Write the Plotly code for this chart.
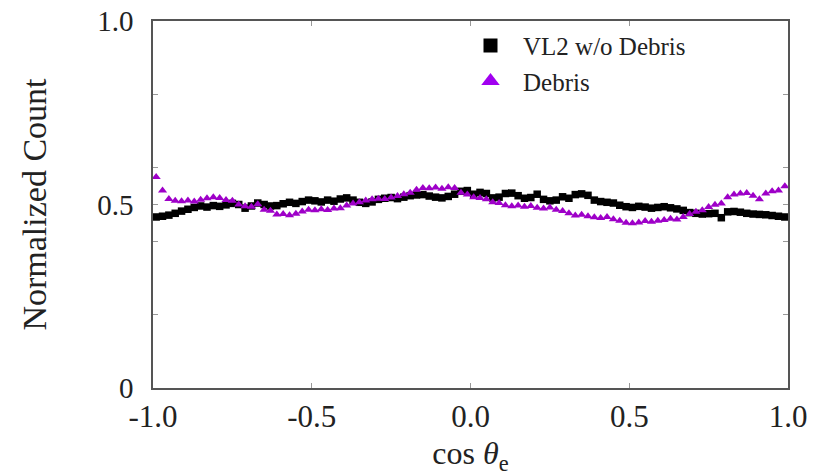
import numpy as np
import plotly.graph_objects as go

# Bin centres of cos(theta_e), 100 bins over [-1, 1]
cos_theta = np.round(np.arange(-0.99, 1.0, 0.02), 2)

# Normalized counts, VL2 without debris
vl2_no_debris = [
    0.466, 0.468, 0.471, 0.476, 0.482, 0.487, 0.492, 0.496, 0.493, 0.497,
    0.495, 0.499, 0.503, 0.500, 0.490, 0.496, 0.504, 0.500, 0.496, 0.497,
    0.502, 0.506, 0.503, 0.508, 0.512, 0.510, 0.507, 0.512, 0.509, 0.515,
    0.518, 0.512, 0.506, 0.503, 0.507, 0.514, 0.517, 0.519, 0.516, 0.520,
    0.524, 0.526, 0.527, 0.523, 0.520, 0.518, 0.522, 0.528, 0.536, 0.538,
    0.528, 0.533, 0.530, 0.518, 0.520, 0.530, 0.531, 0.524, 0.517, 0.519,
    0.528, 0.514, 0.510, 0.512, 0.521, 0.517, 0.527, 0.529, 0.525, 0.512,
    0.508, 0.506, 0.504, 0.498, 0.494, 0.492, 0.495, 0.493, 0.490, 0.492,
    0.494, 0.491, 0.488, 0.484, 0.478, 0.476, 0.474, 0.475, 0.476, 0.464,
    0.480, 0.481, 0.479, 0.476, 0.474, 0.473, 0.472, 0.470, 0.468, 0.466,
]

# Normalized counts, debris
debris = [
    0.575, 0.538, 0.515, 0.510, 0.509, 0.511, 0.508, 0.513, 0.517, 0.520,
    0.518, 0.512, 0.510, 0.500, 0.495, 0.494, 0.501, 0.486, 0.483, 0.473,
    0.474, 0.471, 0.475, 0.481, 0.486, 0.484, 0.487, 0.485, 0.489, 0.490,
    0.497, 0.503, 0.506, 0.511, 0.514, 0.516, 0.515, 0.519, 0.523, 0.528,
    0.532, 0.540, 0.545, 0.544, 0.546, 0.543, 0.547, 0.545, 0.532, 0.527,
    0.520, 0.518, 0.514, 0.506, 0.504, 0.498, 0.495, 0.497, 0.494, 0.496,
    0.491, 0.489, 0.492, 0.486, 0.482, 0.476, 0.470, 0.472, 0.468, 0.465,
    0.463, 0.466, 0.460, 0.456, 0.450, 0.449, 0.451, 0.455, 0.453, 0.456,
    0.458, 0.461, 0.459, 0.466, 0.474, 0.480, 0.484, 0.493, 0.499, 0.503,
    0.520, 0.527, 0.530, 0.531, 0.524, 0.514, 0.530, 0.536, 0.538, 0.550,
]

x_tick_vals = [-1.0, -0.5, 0.0, 0.5, 1.0]
x_tick_text = ["-1.0", "-0.5", "0.0", "0.5", "1.0"]
y_tick_vals = [0, 0.5, 1.0]
y_tick_text = ["0", "0.5", "1.0"]

BLACK = "#000000"
PURPLE = "#9e00c8"
FONT = "Liberation Serif"
TEXT = "#222222"

fig = go.Figure()

fig.add_trace(go.Scatter(
    x=cos_theta, y=vl2_no_debris, mode="markers", showlegend=False,
    marker=dict(symbol="square", size=7.5, color=BLACK),
))
fig.add_trace(go.Scatter(
    x=cos_theta, y=debris, mode="markers", showlegend=False,
    marker=dict(symbol="triangle-up", size=8, color=PURPLE),
))

# Legend entries with larger symbols
fig.add_trace(go.Scatter(
    x=[None], y=[None], mode="markers", name="\u00a0\u00a0VL2 w/o Debris",
    marker=dict(symbol="square", size=14, color=BLACK),
))
fig.add_trace(go.Scatter(
    x=[None], y=[None], mode="markers", name="\u00a0\u00a0Debris",
    marker=dict(symbol="triangle-up", size=17, color="#a100f0"),
))

axis_common = dict(
    showline=True, linecolor="#555555", linewidth=1.5, mirror="ticks",
    ticks="inside", ticklen=5, tickcolor="#999999", showgrid=False, zeroline=False,
    automargin=False,
)

fig.update_xaxes(
    range=[-1.0, 1.0], tickvals=x_tick_vals, ticktext=x_tick_text,
    tickfont=dict(family=FONT, size=31, color=TEXT),
    title=dict(text="cos <i>θ</i><sub>e</sub>", font=dict(family=FONT, size=32, color=TEXT), standoff=27),
    **axis_common,
)
fig.update_yaxes(
    range=[0, 1.0], tickvals=y_tick_vals, ticktext=y_tick_text,
    tickfont=dict(family=FONT, size=29, color=TEXT), ticklabelstandoff=12,
    minor=dict(tickvals=[0.2, 0.4, 0.6, 0.8], ticks="inside", ticklen=5, tickcolor="#999999"),
    title=dict(text="Normalized Count", font=dict(family=FONT, size=34, color=TEXT), standoff=40),
    **axis_common,
)

fig.update_layout(
    width=836, height=476,
    margin=dict(l=153, r=48, t=21, b=88),
    paper_bgcolor="white", plot_bgcolor="white",
    legend=dict(
        x=0.5, y=0.995, xanchor="left", yanchor="top",
        bgcolor="rgba(0,0,0,0)", borderwidth=0,
        font=dict(family=FONT, size=25, color=TEXT),
        tracegroupgap=0, itemwidth=30,
    ),
)

fig.write_html("out.html")
